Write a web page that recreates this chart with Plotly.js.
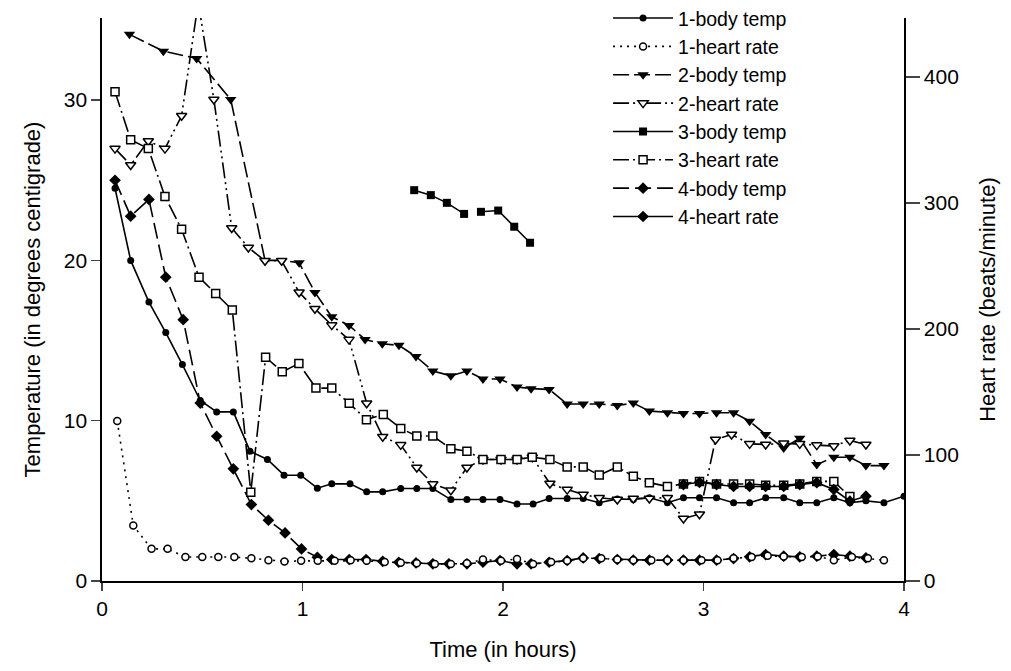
<!DOCTYPE html>
<html>
<head>
<meta charset="utf-8">
<script src="https://cdn.plot.ly/plotly-3.0.1.min.js"></script>
<style>html,body{margin:0;padding:0;background:#fff;}#chart{width:1011px;height:671px;}</style>
</head>
<body>
<div id="chart"></div>
<script>
// ---- Data (time in hours; body temp in °C on left axis; heart rate in beats/min on right axis) ----
const bt1_x = [0.065,0.143,0.234,0.318,0.401,0.49,0.572,0.655,0.738,0.825,0.908,0.991,1.074,1.146,1.237,1.32,1.40,1.49,1.57,1.65,1.74,1.82,1.90,1.985,2.07,2.15,2.23,2.32,2.40,2.48,2.57,2.65,2.73,2.82,2.90,2.98,3.065,3.15,3.23,3.31,3.40,3.48,3.565,3.65,3.73,3.81,3.90,4.0];
const bt1_y = [24.5,20.0,17.4,15.5,13.5,11.26,10.55,10.55,8.1,7.58,6.6,6.6,5.79,6.06,6.06,5.56,5.56,5.77,5.77,5.77,5.08,5.08,5.08,5.08,4.8,4.8,5.15,5.15,5.15,4.88,5.12,5.08,5.19,4.88,5.19,5.19,5.19,4.88,4.88,5.19,5.19,4.88,4.88,5.19,4.88,5.0,4.88,5.29];

const hr1_x = [0.076,0.156,0.247,0.327,0.416,0.50,0.58,0.66,0.745,0.83,0.91,0.993,1.076,1.16,1.24,1.32,1.41,1.49,1.57,1.66,1.74,1.82,1.90,1.99,2.07,2.15,2.24,2.32,2.40,2.49,2.57,2.65,2.74,2.82,2.90,2.99,3.07,3.15,3.24,3.32,3.40,3.49,3.57,3.65,3.74,3.82,3.90];
const hr1_y = [127,44,25.5,25.5,19,19,19,19,18,16.5,15.5,16,16,16,16.5,16,15,14.5,14,13.5,13.5,14,17,16,17.5,13.5,15,16,18,18,17,16.5,16.5,16.5,16.5,16.5,16.5,18,19,20,19.5,19,19.5,16.5,19,18,16.5];

const bt2_x = [0.137,0.306,0.472,0.642,0.813,0.896,0.983,1.062,1.146,1.232,1.312,1.398,1.481,1.566,1.65,1.74,1.82,1.90,1.985,2.07,2.14,2.23,2.32,2.40,2.48,2.57,2.65,2.73,2.82,2.90,2.98,3.065,3.15,3.23,3.31,3.40,3.48,3.565,3.65,3.73,3.81,3.90];
const bt2_y = [34.1,33.05,32.6,30.04,20.0,20.0,19.85,18.0,16.48,15.94,15.07,14.8,14.7,14.0,13.1,12.8,13.1,12.6,12.6,12.1,12.0,11.95,11.04,11.04,11.04,10.95,11.1,10.6,10.5,10.45,10.45,10.5,10.5,9.97,9.14,8.3,8.9,7.26,7.72,7.72,7.2,7.2];

const hr2_x = [0.065,0.143,0.231,0.314,0.397,0.48,0.558,0.647,0.73,0.813,0.896,0.983,1.062,1.146,1.232,1.32,1.40,1.49,1.57,1.65,1.74,1.82,1.90,1.99,2.07,2.146,2.234,2.32,2.40,2.48,2.57,2.65,2.73,2.82,2.90,2.98,3.06,3.14,3.23,3.31,3.40,3.48,3.565,3.65,3.73,3.81];
const hr2_y = [343,330,349,343,369,459,382,280,264.5,254,254,229,216,203,191.5,141,114.5,108,90,77,72,90,96.4,96.4,96.4,98.2,77.3,72.5,68.7,66,64.6,65.5,65.5,66,49.6,53,112.3,116.2,108.8,108.3,109.3,108.8,107.8,107.1,111.5,108.3];

const bt3_x = [1.557,1.64,1.72,1.806,null,1.89,1.976,2.056,2.135];
const bt3_y = [24.38,24.07,23.59,22.9,null,23.03,23.11,22.1,21.1];

const hr3_x = [0.065,0.143,0.231,0.314,0.397,0.484,0.567,0.65,0.742,0.816,0.899,0.982,1.067,1.146,1.233,1.319,1.403,1.49,1.57,1.65,1.74,1.82,1.90,1.99,2.07,2.146,2.234,2.32,2.40,2.48,2.57,2.65,2.73,2.82,2.90,2.98,3.065,3.15,3.23,3.31,3.40,3.48,3.565,3.65,3.73];
const hr3_y = [388,350,343,305,279,241,228,215,70.5,177.5,166,172.5,153,153,141,128,132,121,115,115,105,103,96.4,96.4,96.4,98.2,96.4,90.5,90.5,84,90.5,83,78,75,77,79,77,77,77,76,76,77,79,79,67];

const bt4_x = [0.065,0.143,0.234,0.318,0.405,0.49,0.572,0.655,0.745,0.83,0.913,0.995,1.074,1.146,1.233,1.317,1.40,1.48,1.566,1.65,1.73,1.82,1.90,1.985,2.07,2.14,2.23,2.32,2.40,2.48,2.57,2.65,2.73,2.82,2.90,2.98,3.065,3.15,3.23,3.31,3.40,3.48,3.565,3.65,3.73,3.81];
const bt4_y = [25.0,22.76,23.8,18.95,16.3,11.1,9.03,7.0,4.77,3.79,3.0,2.0,1.48,1.34,1.34,1.34,1.23,1.17,1.13,1.07,1.07,1.07,1.17,1.28,1.07,1.07,1.17,1.28,1.44,1.4,1.34,1.3,1.3,1.3,1.3,1.3,1.3,1.4,1.51,1.65,1.55,1.51,1.55,1.65,1.55,1.45];

const hr4_x = [2.90,2.98,3.065,3.15,3.23,3.31,3.40,3.48,3.565,3.65,3.73,3.81];
const hr4_y = [76.5,78.3,76.5,75,75,75,75,76.5,78,72.6,63.3,67.3];

const seriesNames = ['1-body temp','1-heart rate','2-body temp','2-heart rate','3-body temp','3-heart rate','4-body temp','4-heart rate'];

// ---- Styles ----
const LW = 1.6;
function tr(name, x, y, axis, dash, symbol, size, open) {
  return {
    type: 'scatter', mode: 'lines+markers', name: name, x: x, y: y,
    yaxis: axis, connectgaps: false, legendgroup: name,
    line: {color: '#000', width: LW, dash: dash},
    marker: {symbol: symbol, size: size, color: open ? '#fff' : '#000',
             line: {color: '#000', width: open ? 1.5 : 0}}
  };
}
const data = [
  tr(seriesNames[0], bt1_x, bt1_y, 'y',  'solid', 'circle', 7, false),
  tr(seriesNames[1], hr1_x, hr1_y, 'y2', '2px,5px', 'circle', 7, true),
  tr(seriesNames[2], bt2_x, bt2_y, 'y',  '16px,5px', 'triangle-down', 10, false),
  tr(seriesNames[3], hr2_x, hr2_y, 'y2', '16px,4px,2px,4px,2px,4px', 'triangle-down', 9, true),
  tr(seriesNames[4], bt3_x, bt3_y, 'y',  'solid', 'square', 8, false),
  tr(seriesNames[5], hr3_x, hr3_y, 'y2', '16px,4px,2px,4px', 'square', 8, true),
  tr(seriesNames[6], bt4_x, bt4_y, 'y',  '16px,6px', 'diamond', 9, false),
  tr(seriesNames[7], hr4_x, hr4_y, 'y2', 'solid', 'diamond', 9, false)
];

const FONT = 'Liberation Sans, Arial, sans-serif';
const layout = {
  width: 1011, height: 671,
  margin: {l: 102, r: 107, t: 18, b: 90, autoexpand: false},
  paper_bgcolor: '#fff', plot_bgcolor: '#fff',
  font: {family: FONT, color: '#000', size: 20},
  showlegend: true,
  legend: {x: 0.631, y: 1.034, xanchor: 'left', yanchor: 'top',
           bgcolor: 'rgba(0,0,0,0)', font: {family: FONT, size: 19.5, color: '#000'},
           itemwidth: 60, tracegroupgap: 0},
  xaxis: {range: [0, 4], tickvals: [0,1,2,3,4], ticks: 'outside', ticklen: 8, tickwidth: 1.5,
          showline: true, linewidth: 1.6, linecolor: '#000', showgrid: false, zeroline: false,
          tickfont: {family: FONT, size: 21}, automargin: false,
          title: {text: 'Time (in hours)', font: {family: FONT, size: 22}, standoff: 23}},
  yaxis: {range: [0, 35.12], tickvals: [0,10,20,30], ticks: 'outside', ticklen: 9, tickwidth: 1.5,
          showline: true, linewidth: 1.6, linecolor: '#000', showgrid: false, zeroline: false,
          tickfont: {family: FONT, size: 21}, automargin: false,
          title: {text: 'Temperature (in degrees centigrade)', font: {family: FONT, size: 22}, standoff: 17}},
  yaxis2: {range: [0, 446.6], tickvals: [0,100,200,300,400], overlaying: 'y', side: 'right',
           ticks: 'outside', ticklen: 14, tickwidth: 1.5,
           showline: true, linewidth: 1.6, linecolor: '#000', showgrid: false, zeroline: false,
           tickfont: {family: FONT, size: 21}, automargin: false,
           title: {text: 'Heart rate (beats/minute)', font: {family: FONT, size: 22}, standoff: 22}}
};
Plotly.newPlot('chart', data, layout, {displayModeBar: false, staticPlot: true});
</script>
</body>
</html>
